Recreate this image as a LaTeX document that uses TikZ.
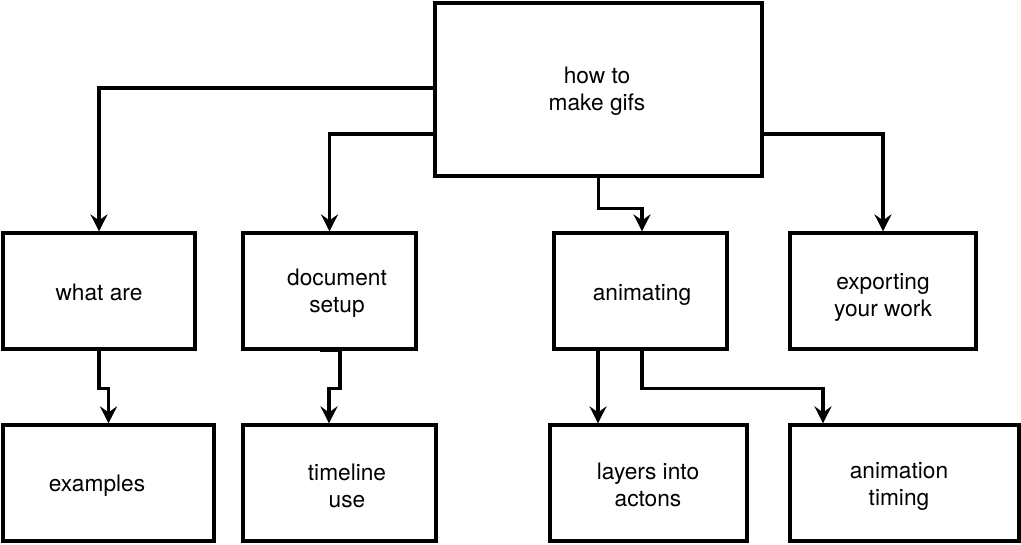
\documentclass[tikz,border=0pt]{standalone}
\usepackage{fontspec}
\setmainfont{TeX Gyre Heros}
\usetikzlibrary{arrows.meta}

\begin{document}
\begin{tikzpicture}[x=1pt, y=-1pt,
	box/.style={draw, line width=3.2pt, inner sep=0pt, minimum height=116pt},
	lbl/.style={align=center, font=\fontsize{22.7pt}{27pt}\selectfont},
	link/.style={-{Stealth[length=17pt, width=17pt, inset=6pt]}, line width=3.2pt}]
	\useasboundingbox (0,0) rectangle (1021,544);
	% boxes
	\node[box, minimum width=327pt, minimum height=173pt] (gifs)     at (598.5, 89.5) {};
	\node[box, minimum width=192pt] (what)     at (99, 291)    {};
	\node[box, minimum width=173pt] (setup)    at (329.5, 291) {};
	\node[box, minimum width=173pt] (anim)     at (640.5, 291) {};
	\node[box, minimum width=186pt] (export)   at (883, 291)   {};
	\node[box, minimum width=211pt] (examples) at (108.5, 483) {};
	\node[box, minimum width=193pt] (timeline) at (339.5, 483) {};
	\node[box, minimum width=197pt] (layers)   at (648.5, 483) {};
	\node[box, minimum width=229pt] (timing)   at (904.5, 483) {};
	% texts
	\node[lbl] (gifsT)     at (597, 91)  {how to\\make gifs};
	\node[lbl] (whatT)     at (99, 292)  {what are};
	\node[lbl] (setupT)    at (337, 293) {document\\setup};
	\node[lbl] (animT)     at (642, 295) {animating};
	\node[lbl] (exportT)   at (883, 297) {exporting\\your work};
	\node[lbl] (examplesT) at (97, 486)  {examples};
	\node[lbl] (timelineT) at (347, 486) {timeline\\use};
	\node[lbl] (layersT)   at (648, 485) {layers into\\actons};
	\node[lbl] (timingT)   at (899, 486) {animation\\timing};
	% connectors
	\draw[link] ([yshift=1.5pt]gifs.west) -| (what.north);
	\draw[link] ([yshift=-44.5pt]gifs.west) -| (setup.north);
	\draw[link] (gifs.south) -- ++(0,31) -| ([xshift=1.5pt]anim.north);
	\draw[link] ([yshift=-44.5pt]gifs.east) -| (export.north);
	\draw[link] (what.south) -- ++(0,38) -| (examples.north);
	\draw[link] ([xshift=-9.5pt]setup.south) -- ([xshift=10.5pt]setup.south) -- ++(0,38) -| ([xshift=-10.5pt]timeline.north);
	\draw[link] ([xshift=-42.5pt]anim.south) -- ([xshift=-50.5pt]layers.north);
	\draw[link] ([xshift=1.5pt]anim.south) -- ++(0,38) -| ([xshift=-81.5pt]timing.north);
\end{tikzpicture}
\end{document}
